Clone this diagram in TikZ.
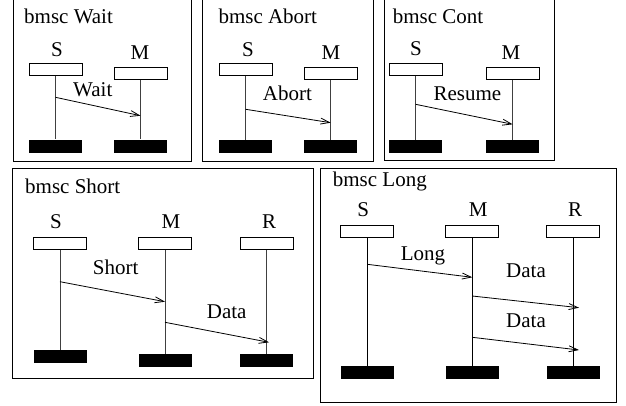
\documentclass[tikz,border=0pt]{standalone}
\usepackage{fontspec}
\setmainfont{Liberation Serif}
\usetikzlibrary{arrows.meta}
\begin{document}
\begin{tikzpicture}[x=1pt,y=-1pt,
  frame/.style={draw=black,line width=1pt},
  head/.style={draw=black,line width=0.8pt,fill=white,minimum width=53pt,minimum height=12pt,inner sep=0pt},
  tail/.style={fill=black,draw=none,minimum width=53pt,minimum height=13pt,inner sep=0pt},
  life/.style={line width=0.8pt,draw=black!75},
  msg/.style={line width=0.8pt,draw=black,-{Straight Barb[length=9pt,width=6pt]}},
  txt/.style={font=\fontsize{21}{24}\selectfont,inner sep=0pt}]
\useasboundingbox (0,0) rectangle (626,405);

% ---------- bmsc Wait ----------
\draw[frame] (13,-2) -- (13,161) -- (191,161) -- (191,-2);
\node[txt,anchor=base west] (wt) at (24,23.3) {bmsc Wait};
\node[txt,anchor=base] (wSl) at (57,56.5) {S};
\node[txt,anchor=base] (wMl) at (140,59.5) {M};
\node[head] (wS) at (55.5,69.3) {};
\node[head] (wM) at (140.5,73.5) {};
\node[tail] (wSe) at (55.5,146) {};
\node[tail] (wMe) at (140.5,146) {};
\draw[life] (wS.south) -- (wSe.north);
\draw[life] (wM.south) -- (wMe.north);
\coordinate (w1) at (55.5,97.3);
\coordinate (w2) at (140.5,115.7);
\draw[msg] (w1) -- (w2);
\node[txt,anchor=base west] (wl) at (73,96.5) {Wait};

% ---------- bmsc Abort ----------
\draw[frame] (202.7,-2) -- (202.7,161) -- (373,161) -- (373,-2);
\node[txt,anchor=base west] (at) at (218.3,23.3) {bmsc Abort};
\node[txt,anchor=base] (aSl) at (248,56.5) {S};
\node[txt,anchor=base] (aMl) at (331,59.5) {M};
\node[head] (aS) at (245.7,69.3) {};
\node[head] (aM) at (330.7,73.5) {};
\node[tail] (aSe) at (245.7,146.3) {};
\node[tail] (aMe) at (330.7,146.3) {};
\draw[life] (aS.south) -- (aSe.north);
\draw[life] (aM.south) -- (aMe.north);
\coordinate (a1) at (245.7,109.3);
\coordinate (a2) at (330.7,122.7);
\draw[msg] (a1) -- (a2);
\node[txt,anchor=base west] (al) at (262.7,100) {Abort};

% ---------- bmsc Cont ----------
\draw[frame] (384.3,-2) -- (384.3,160) -- (554.3,160) -- (554.3,-2);
\node[txt,anchor=base west] (ct) at (392.7,23.3) {bmsc Cont};
\node[txt,anchor=base] (cSl) at (416,55.5) {S};
\node[txt,anchor=base] (cMl) at (511,59.5) {M};
\node[head] (cS) at (415.6,69.3) {};
\node[head] (cM) at (512.7,73.5) {};
\node[tail] (cSe) at (415.6,146.3) {};
\node[tail] (cMe) at (512.7,146.3) {};
\draw[life] (cS.south) -- (cSe.north);
\draw[life] (cM.south) -- (cMe.north);
\coordinate (c1) at (415.6,104.3);
\coordinate (c2) at (512.7,124.3);
\draw[msg] (c1) -- (c2);
\node[txt,anchor=base west] (cl) at (433.3,100) {Resume};

% ---------- bmsc Short ----------
\draw[frame] (12.7,168.3) rectangle (313.3,378.3);
\node[txt,anchor=base west] (st) at (25,193) {bmsc Short};
\node[txt,anchor=base] (sSl) at (56,228.3) {S};
\node[txt,anchor=base] (sMl) at (171,228.3) {M};
\node[txt,anchor=base] (sRl) at (269,228.3) {R};
\node[head] (sS) at (60,243.8) {};
\node[head] (sM) at (165,243.8) {};
\node[head] (sR) at (266.5,243.8) {};
\node[tail] (sSe) at (60,356.7) {};
\node[tail] (sMe) at (165,360.3) {};
\node[tail] (sRe) at (266.5,360.3) {};
\draw[life] (sS.south) -- (sSe.north);
\draw[life] (sM.south) -- (sMe.north);
\draw[life] (sR.south) -- (sRe.north);
\coordinate (s1) at (60,281.7);
\coordinate (s2) at (165,301.7);
\coordinate (s3) at (165,322.3);
\coordinate (s4) at (269,342.3);
\draw[msg] (s1) -- (s2);
\draw[msg] (s3) -- (s4);
\node[txt,anchor=base west] (sl1) at (92.7,274) {Short};
\node[txt,anchor=base west] (sl2) at (206.7,318.3) {Data};

% ---------- bmsc Long ----------
\draw[frame] (320,168.3) rectangle (616,402.7);
\node[txt,anchor=base west] (lt) at (332.7,186.7) {bmsc Long};
\node[txt,anchor=base] (lSl) at (363.3,216) {S};
\node[txt,anchor=base] (lMl) at (478.3,216) {M};
\node[txt,anchor=base] (lRl) at (575,216) {R};
\node[head] (lS) at (367.3,231.2) {};
\node[head] (lM) at (472.3,231.2) {};
\node[head] (lR) at (573.3,231.2) {};
\node[tail] (lSe) at (367.3,372.3) {};
\node[tail] (lMe) at (472.3,372.3) {};
\node[tail] (lRe) at (573.3,372.3) {};
\draw[line width=0.8pt] (lS.south) -- (lSe.north);
\draw[line width=0.8pt] (lM.south) -- (lMe.north);
\draw[line width=0.8pt] (lR.south) -- (lRe.north);
\coordinate (l1) at (367.3,264.3);
\coordinate (l2) at (472.3,277.3);
\coordinate (l3) at (472.3,296);
\coordinate (l4) at (579,307.7);
\coordinate (l5) at (472.3,337.3);
\coordinate (l6) at (579,350);
\draw[msg] (l1) -- (l2);
\draw[msg] (l3) -- (l4);
\draw[msg] (l5) -- (l6);
\node[txt,anchor=base west] (ll1) at (400.7,260) {Long};
\node[txt,anchor=base west] (ll2) at (506,277.3) {Data};
\node[txt,anchor=base west] (ll3) at (506,327.3) {Data};
\end{tikzpicture}
\end{document}
